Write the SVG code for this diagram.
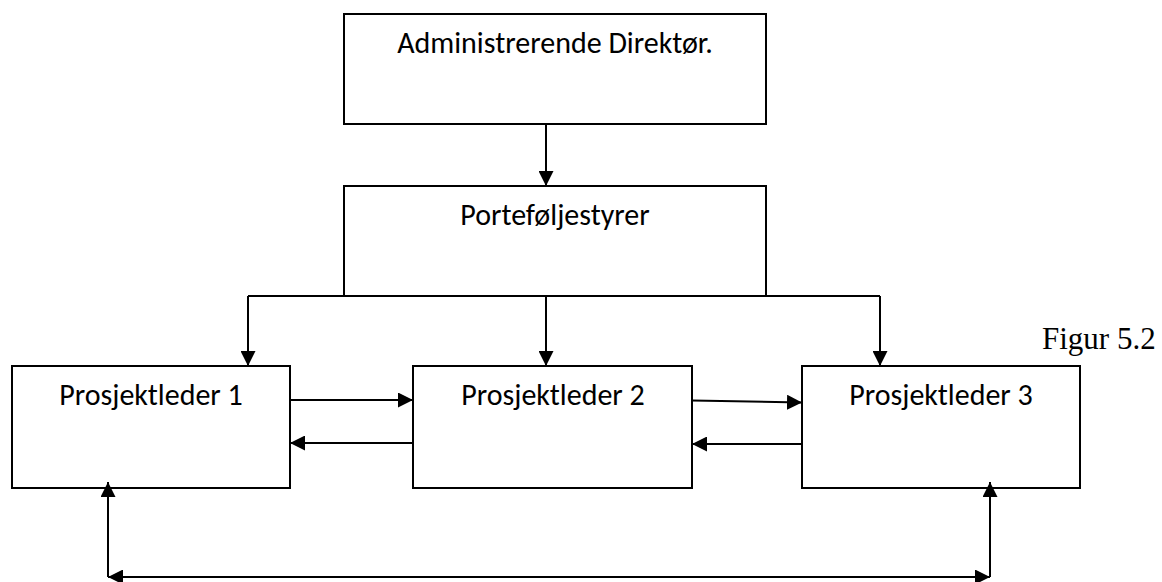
<svg xmlns="http://www.w3.org/2000/svg" width="1162" height="582" viewBox="0 0 1162 582">
<style>
.box{fill:#fff;stroke:#000;stroke-width:2}
.lbl{font-family:Carlito,Lato,"Open Sans",sans-serif;font-size:30px;fill:#000;text-anchor:middle}
.cap{font-family:"Liberation Serif","Times New Roman",serif;font-size:31px;fill:#000}
.con{fill:none;stroke:#000;stroke-width:2}
</style>
<defs>
<marker id="ah" markerUnits="userSpaceOnUse" markerWidth="15" markerHeight="15" viewBox="0 0 15 15" refX="15" refY="7.5" orient="auto-start-reverse">
<path d="M0,0 L15,7.5 L0,15 z" fill="#000"/>
</marker>
</defs>
<g id="n-admin"><rect class="box" x="344" y="14" width="422" height="110"/><text class="lbl" x="555" y="53">Administrerende Direktør.</text></g>
<g id="n-portfolio"><rect class="box" x="344" y="186" width="422" height="110"/><text class="lbl" x="555" y="225">Porteføljestyrer</text></g>
<g id="n-pl1"><rect class="box" x="12" y="366" width="278" height="122"/><text class="lbl" x="151" y="405">Prosjektleder 1</text></g>
<g id="n-pl2"><rect class="box" x="413" y="366" width="279" height="122"/><text class="lbl" x="553" y="405">Prosjektleder 2</text></g>
<g id="n-pl3"><rect class="box" x="802" y="366" width="278" height="122"/><text class="lbl" x="941" y="405">Prosjektleder 3</text></g>
<text class="cap" x="1042" y="349">Figur 5.2</text>
<g id="connectors">
<path class="con" d="M546,124 V186" marker-end="url(#ah)"/>
<path class="con" d="M248,296 H880"/>
<path class="con" d="M248,296 V366" marker-end="url(#ah)"/>
<path class="con" d="M546,296 V366" marker-end="url(#ah)"/>
<path class="con" d="M880,296 V366" marker-end="url(#ah)"/>
<path class="con" d="M290,400 H413" marker-end="url(#ah)"/>
<path class="con" d="M413,443 H290" marker-end="url(#ah)"/>
<path class="con" d="M692,400.5 L802,402.5" marker-end="url(#ah)"/>
<path class="con" d="M802,444 H692" marker-end="url(#ah)"/>
<path class="con" d="M108,577 V482" marker-end="url(#ah)"/>
<path class="con" d="M990,577 V482" marker-end="url(#ah)"/>
<path class="con" d="M108,577 H990" marker-start="url(#ah)" marker-end="url(#ah)"/>
</g>
</svg>
